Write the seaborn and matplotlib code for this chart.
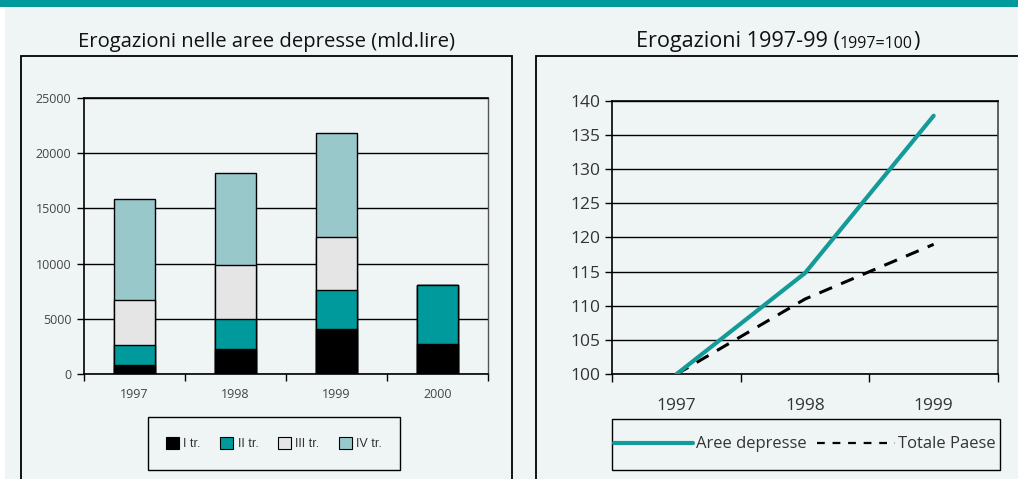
"""
Erogazioni nelle aree depresse - barre impilate + indice 1997=100
"""
import numpy as np
import pandas as pd
import matplotlib
matplotlib.use("Agg")
import matplotlib.pyplot as plt
from matplotlib.patches import Patch, Rectangle
from matplotlib.lines import Line2D
import seaborn as sns

# ---- dati ----
anni = ["1997", "1998", "1999", "2000"]
trimestri = ["I tr.", "II tr.", "III tr.", "IV tr."]
tr_I = [850, 2230, 4100, 2710]
tr_II = [1740, 2750, 3500, 5320]
tr_III = [4140, 4920, 4780, 0]
tr_IV = [9080, 8270, 9450, 0]

anni_idx = [1997, 1998, 1999]
aree_depresse = [100, 114.8, 137.8]
totale_paese = [100, 111.0, 119.0]

# ---- stile ----
BG = "#eff5f5"
TEAL = "#009a9c"
col_tr = ["#000000", TEAL, "#e5e5e5", "#99c8cb"]

sns.set_theme(style="white")
plt.rcParams['font.family'] = ['Open Sans', 'DejaVu Sans']

fig = plt.figure(figsize=(10.18, 4.79), dpi=100, facecolor=BG)
W, H = 1018, 479

def fx(px):
    return px / W

def fy(py):
    return 1 - py / H

def box(x0, y0, x1, y1, **kw):
    # rettangolo in pixel (origine in alto a sinistra)
    fig.patches.append(Rectangle((fx(x0), fy(y1)), fx(x1 - x0), (y1 - y0) / H,
                                 transform=fig.transFigure, **kw))

# cornici e fascia superiore
box(0, 0, W, 7, facecolor=TEAL, edgecolor="none", zorder=0)
box(0, 7, 5, H, facecolor="white", edgecolor="none", zorder=0)
box(20.5, 55.7, 512, 485, facecolor="none", edgecolor="black", linewidth=1.3, zorder=1)
box(536, 55.7, 1100, 485, facecolor="none", edgecolor="black", linewidth=1.3, zorder=1)

# ========== grafico 1: barre impilate ==========
ax1 = fig.add_axes([fx(84), fy(374), fx(488 - 84), (374 - 98) / H])
ax1.set_facecolor(BG)
strati = np.cumsum(np.array([tr_I, tr_II, tr_III, tr_IV]), axis=0)
for i in range(3, -1, -1):
    df = pd.DataFrame({"anno": anni, "valore": strati[i]})
    sns.barplot(data=df, x="anno", y="valore", color=col_tr[i], saturation=1,
                width=0.4, edgecolor="black", linewidth=1.0, errorbar=None,
                ax=ax1, zorder=3)
ax1.set_ylim(0, 25000)
ax1.set_xlim(-0.5, 3.5)
ax1.set_yticks(np.arange(0, 25001, 5000))
ax1.yaxis.grid(True, color="black", linewidth=1.0, zorder=0)
ax1.set_axisbelow(True)
ax1.set_xlabel("")
ax1.set_ylabel("")
ax1.tick_params(axis="y", labelsize=9, labelcolor="#444444", length=5,
                width=1, color="black", direction="out", left=True, pad=4)
ax1.set_xticks(range(4))
ax1.set_xticklabels(anni, fontsize=9, color="#444444")
ax1.tick_params(axis="x", length=0, pad=10)
ax1.set_xticks([-0.5, 0.5, 1.5, 2.5, 3.5], minor=True)
ax1.tick_params(axis="x", which="minor", length=5, width=1, color="black",
                direction="out", bottom=True)
for s in ["left", "bottom", "top"]:
    ax1.spines[s].set_color("black")
    ax1.spines[s].set_linewidth(1.2)
ax1.spines["right"].set_color("#555555")
ax1.spines["right"].set_linewidth(1.0)

fig.text(fx(266), fy(47), "Erogazioni nelle aree depresse (mld.lire)",
         ha="center", va="baseline", fontsize=14.6, color="#111111")

h1 = [Patch(facecolor=c, edgecolor="black", linewidth=0.8) for c in col_tr]
leg1 = fig.legend(h1, trimestri, loc="center", ncol=4,
                  bbox_to_anchor=(fx(274), fy(443.5)), frameon=False,
                  prop={"family": "Liberation Sans", "size": 9},
                  handlelength=1.05, handleheight=1.05, handletextpad=0.35,
                  columnspacing=1.55, borderpad=0, borderaxespad=0)
for t in leg1.get_texts():
    t.set_color("#333333")
box(148, 417, 400, 470, facecolor="none", edgecolor="black", linewidth=1.0, zorder=1)

# ========== grafico 2: indici ==========
ax2 = fig.add_axes([fx(612), fy(374.3), fx(998 - 612), (374.3 - 100.7) / H])
ax2.set_facecolor(BG)
sns.lineplot(x=anni_idx, y=totale_paese, color="black", linewidth=2.2,
             ax=ax2, zorder=3)
ax2.lines[-1].set_dashes([4.5, 3.2])
sns.lineplot(x=anni_idx, y=aree_depresse, color="#159a9a", linewidth=3.0,
             ax=ax2, zorder=4)
ax2.set_xlim(1996.5, 1999.5)
ax2.set_ylim(100, 140)
ax2.set_yticks(np.arange(100, 141, 5))
ax2.yaxis.grid(True, color="black", linewidth=1.0, zorder=0)
ax2.set_axisbelow(True)
ax2.tick_params(axis="y", labelsize=12.5, labelcolor="#333333", length=5,
                width=1, color="black", direction="out", left=True, pad=3)
ax2.set_xticks(anni_idx)
ax2.set_xticklabels([str(a) for a in anni_idx], fontsize=12.5, color="#333333")
ax2.tick_params(axis="x", length=0, pad=17)
ax2.set_xticks([1996.5, 1997.5, 1998.5, 1999.5], minor=True)
ax2.tick_params(axis="x", which="minor", length=6, width=1, color="black",
                direction="out", bottom=True)
for s in ["left", "bottom", "top"]:
    ax2.spines[s].set_color("black")
    ax2.spines[s].set_linewidth(1.2)
ax2.spines["right"].set_color("#444444")
ax2.spines["right"].set_linewidth(1.2)

t1 = fig.text(fx(636), fy(47), "Erogazioni 1997-99 (", ha="left",
              va="baseline", fontsize=15.6, color="#111111")
t2 = plt.annotate("1997=100", xy=(1, 0), xycoords=t1, va="bottom", ha="left",
                  fontsize=11.5, color="#111111", annotation_clip=False)
t3 = plt.annotate(")", xy=(1, 0), xycoords=t2, va="bottom", ha="left",
                  fontsize=15.6, color="#111111", annotation_clip=False)

h2 = [Line2D([], [], color="#159a9a", linewidth=3.0),
      Line2D([], [], color="black", linewidth=1.6, dashes=[3.5, 3.5])]
leg2 = fig.legend(h2, ["Aree depresse", "Totale Paese"], loc="center", ncol=2,
                  bbox_to_anchor=(fx(805), fy(444.5)), frameon=False,
                  prop={"family": "Open Sans", "size": 12},
                  handlelength=4.7, handletextpad=0.2, columnspacing=0.6,
                  borderpad=0, borderaxespad=0)
for t in leg2.get_texts():
    t.set_color("#333333")
box(612, 419, 1000, 470, facecolor="none", edgecolor="black", linewidth=1.0, zorder=1)

fig.savefig("out.png", dpi=100, facecolor=BG)
